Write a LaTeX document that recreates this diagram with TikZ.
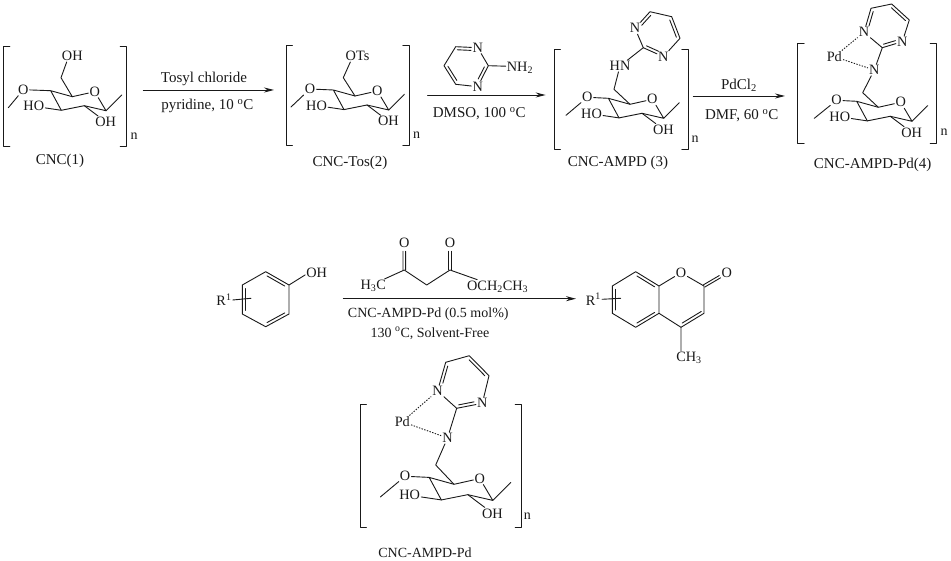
\documentclass[tikz,border=0pt]{standalone}
\usepackage{fontspec}
\setmainfont{Liberation Serif}
\usetikzlibrary{calc,arrows.meta}
\tikzset{
	atom/.style={inner sep=1pt,font=\fontsize{14.3}{16}\selectfont},
	cond/.style={inner sep=0pt,font=\fontsize{15}{17}\selectfont},
	condsm/.style={inner sep=0pt,font=\fontsize{14}{16}\selectfont},
	bond/.style={line width=0.9pt},
	coord/.style={dash pattern=on 1.4pt off 1.4pt,line cap=butt,line width=0.9pt},
	rxn/.style={line width=0.95pt,-{Stealth[length=10pt,width=5pt]}}
}
% second line of a double bond: from, fraction, to, fraction, offset
\newcommand{\innerbond}[5]{\draw[bond] ($(#1)!#2!(#3)!#5!90:(#3)$)--($(#3)!#4!(#1)!#5!-90:(#1)$);}
% sugar unit: prefix, origin, scale, x of left O
\newcommand{\sugarunit}[4]{
	\begin{scope}[shift={#2},scale=#3,name prefix=#1-]
		\coordinate (cfive) at (0,0);
		\coordinate (cfour) at (-21.6,-6);
		\coordinate (cthree) at (-11,13.6);
		\coordinate (ctwo) at (12,9);
		\coordinate (cone) at (33.7,14);
		\coordinate (mea) at (-64,11);
		\coordinate (meb) at (49.4,-1.7);
		\node[atom] (oleft) at (#4,-7) {O};
		\node[atom] (oring) at (22.4,-5) {O};
		\node[atom] (ho) at (-38.5,9.5) {HO};
		\node[atom] (oh) at (33.4,25.3) {OH};
		\draw[bond] (mea)--(oleft)--(cfour)--(cfive)--(oring)--(cone)--(ctwo)--(cthree)--(cfour);
		\draw[bond] (cone)--(meb) (cthree)--(ho) (ctwo)--(oh.142);
	\end{scope}
}
% square brackets with index
\newcommand{\polybracket}[6]{
	\coordinate (#1-a) at (#2+6.5,#4);
	\coordinate (#1-b) at (#2,#4);
	\coordinate (#1-c) at (#2,#5);
	\coordinate (#1-d) at (#2+6.5,#5);
	\coordinate (#1-e) at (#3-6.5,#4);
	\coordinate (#1-f) at (#3,#4);
	\coordinate (#1-g) at (#3,#5);
	\coordinate (#1-h) at (#3-6.5,#5);
	\draw[bond] (#1-a)--(#1-b)--(#1-c)--(#1-d) (#1-e)--(#1-f)--(#1-g)--(#1-h);
	\node[condsm] (#1-n) at #6 {n};
}
\begin{document}
\begin{tikzpicture}[x=1pt,y=-1pt,line join=round,line cap=round,black!90]
	\useasboundingbox (0,0) rectangle (951,561);
	% CNC(1)
	\sugarunit{cnc}{(72.3,96.7)}{1}{-49}
	\coordinate (cnc-ch) at (61,77.7);
	\node[atom] (cnc-top) at (72.3,56) {OH};
	\draw[bond] (cnc-cfive)--(cnc-ch)--(cnc-top.-133);
	\polybracket{bra}{3.3}{126.7}{46.7}{146.7}{(134,136.7)}
	\node[cond] (cnclab) at (60,160.7) {CNC(1)};
	% first step
	\coordinate (ra) at (143.3,90);
	\coordinate (rb) at (274,90);
	\draw[rxn] (ra)--(rb);
	\node[cond] (tosyl) at (204,79.3) {Tosyl chloride};
	\node[cond] (pyr) at (207.3,105.7) {pyridine, 10 \textsuperscript{o}C};
	% CNC-Tos(2)
	\sugarunit{tos}{(355,96)}{1}{-45}
	\coordinate (tos-ch) at (343.3,77.7);
	\node[atom] (tos-top) at (357.5,56) {OTs};
	\draw[bond] (tos-cfive)--(tos-ch)--(tos-top.-140);
	\polybracket{brb}{286}{409.3}{45.7}{145.7}{(416.7,135.7)}
	\node[cond] (toslab) at (350,162.7) {CNC-Tos(2)};
	% second step
	\coordinate (rc) at (427.7,95);
	\coordinate (rd) at (545.7,95);
	\draw[rxn] (rc)--(rd);
	\node[cond] (dmso) at (479.3,113.3) {DMSO, 100 \textsuperscript{o}C};
	\node[atom] (amn) at (477.7,47.7) {N};
	\node[atom] (amm) at (477.7,86.7) {N};
	\coordinate (amc) at (488.3,65.7);
	\coordinate (amd) at (455.7,84.3);
	\coordinate (ame) at (444,65.7);
	\coordinate (amf) at (455.7,46.7);
	\node[atom] (nhh) at (520,67.7) {NH\textsubscript{2}};
	\draw[bond] (amn)--(amc)--(amm)--(amd)--(ame)--(amf)--(amn) (amc)--(nhh.174);
	\innerbond{amf}{.08}{amn}{.3}{-3pt}
	\innerbond{amc}{.12}{amm}{.3}{-3pt}
	\innerbond{amd}{.12}{ame}{.12}{-3pt}
	% CNC-AMPD (3)
	\sugarunit{amp}{(630,104.3)}{1}{-42.7}
	\coordinate (amp-ch) at (614,89.3);
	\node[atom] (amp-hn) at (620,66) {HN};
	\node[atom] (pan) at (635,28.3) {N};
	\node[atom] (pam) at (663.3,56.7) {N};
	\coordinate (pac) at (643.3,47.7);
	\coordinate (pad) at (680,38.3);
	\coordinate (pae) at (671.7,16.7);
	\coordinate (paf) at (650,11.7);
	\draw[bond] (amp-cfive)--(amp-ch)--(amp-hn) (amp-hn)--(pac);
	\draw[bond] (pan)--(pac)--(pam)--(pad)--(pae)--(paf)--(pan);
	\innerbond{paf}{.1}{pan}{.3}{3pt}
	\innerbond{pac}{.1}{pam}{.3}{3pt}
	\innerbond{pad}{.1}{pae}{.1}{3pt}
	\polybracket{brc}{554}{688.3}{49.3}{149}{(695,139.3)}
	\node[cond] (amplab) at (618,162.5) {CNC-AMPD (3)};
	% third step
	\coordinate (re) at (693.3,96);
	\coordinate (rf) at (785,96);
	\draw[rxn] (re)--(rf);
	\node[cond] (pdcl) at (739,85) {PdCl\textsubscript{2}};
	\node[cond] (dmf) at (741.7,115.7) {DMF, 60 \textsuperscript{o}C};
	% CNC-AMPD-Pd(4)
	\sugarunit{apd}{(878.3,107.3)}{1}{-41.7}
	\coordinate (apd-ch) at (862.7,92.7);
	\node[atom] (apd-nn) at (874.3,70) {N};
	\node[atom] (pdn) at (864,32.3) {N};
	\node[atom] (pdm) at (902.3,41.7) {N};
	\node[atom] (pdm-pd) at (834.3,56.7) {Pd};
	\coordinate (pdc) at (882.3,47.7);
	\coordinate (pdd) at (909.3,20);
	\coordinate (pde) at (891.7,4);
	\coordinate (pdf) at (871,8.3);
	\draw[bond] (apd-cfive)--(apd-ch)--(apd-nn)--(pdc);
	\draw[bond] (pdn)--(pdc)--(pdm)--(pdd)--(pde)--(pdf)--(pdn);
	\innerbond{pdf}{.1}{pdn}{.3}{3pt}
	\innerbond{pdc}{.1}{pdm}{.3}{3pt}
	\innerbond{pdd}{.1}{pde}{.1}{3pt}
	\draw[coord] (pdm-pd)--(pdn) (pdm-pd)--(apd-nn);
	\polybracket{brd}{797.7}{936.7}{43.3}{143.3}{(944,132.7)}
	\node[cond] (apdlab) at (872.7,165) {CNC-AMPD-Pd(4)};
	% phenol
	\coordinate (pha) at (289,285);
	\coordinate (phb) at (265.7,271.7);
	\coordinate (phc) at (242.3,285);
	\coordinate (phd) at (242.3,314);
	\coordinate (phe) at (265.7,326.7);
	\coordinate (phf) at (289,314);
	\node[atom] (phoh) at (316.7,273.3) {OH};
	\node[atom] (phr) at (224,300) {R\textsuperscript{1}};
	\coordinate (phs) at (251,298.3);
	\draw[bond] (pha)--(phb)--(phc)--(phd)--(phe)--(phf)--(pha) (pha)--(phoh.188) (phr.east)--(phs);
	\innerbond{phb}{.12}{pha}{.12}{-3pt}
	\innerbond{phc}{.12}{phd}{.12}{3pt}
	\innerbond{phe}{.12}{phf}{.12}{3pt}
	% acetoacetate and conditions
	\node[atom] (kha) at (373.3,286) {H\textsubscript{3}C};
	\coordinate (khb) at (404.3,270);
	\coordinate (khc) at (426.7,285);
	\coordinate (khd) at (450,270);
	\node[atom] (khe) at (497.7,286.7) {OCH\textsubscript{2}CH\textsubscript{3}};
	\node[atom] (kho) at (404.3,243.3) {O};
	\node[atom] (khp) at (450,243.3) {O};
	\draw[bond] (kha.32)--(khb)--(khc)--(khd)--(khe.161);
	\innerbond{khb}{0}{kho}{.3}{1.3pt}
	\innerbond{khb}{0}{kho}{.3}{-1.3pt}
	\innerbond{khd}{0}{khp}{.3}{1.3pt}
	\innerbond{khd}{0}{khp}{.3}{-1.3pt}
	\coordinate (rg) at (343.3,298.7);
	\coordinate (rh) at (576,298.7);
	\draw[rxn] (rg)--(rh);
	\node[condsm] (catal) at (428.3,314) {CNC-AMPD-Pd (0.5 mol\%)};
	\node[condsm] (temp) at (430,333.3) {130 \textsuperscript{o}C, Solvent-Free};
	% coumarin
	\coordinate (coa) at (635.7,271.7);
	\coordinate (cob) at (659,286);
	\coordinate (coc) at (659,313.3);
	\coordinate (cod) at (635.7,327.3);
	\coordinate (coe) at (612.3,313.3);
	\coordinate (cof) at (612.3,286);
	\node[atom] (coo) at (681,272.7) {O};
	\coordinate (cog) at (704,286);
	\node[atom] (cop) at (726.7,272.7) {O};
	\coordinate (coh) at (704,313.3);
	\coordinate (coi) at (681,327.3);
	\node[atom] (coch) at (689,358) {CH\textsubscript{3}};
	\node[atom] (cor) at (593.3,299.3) {R\textsuperscript{1}};
	\coordinate (cos) at (620.7,298.3);
	\draw[bond] (coa)--(cob)--(coc)--(cod)--(coe)--(cof)--(coa) (cob)--(coo)--(cog)--(coh)--(coi)--(coc) (coi)--(coch.north-|coi) (cor.east)--(cos);
	\innerbond{cog}{0}{cop}{.3}{1.3pt}
	\innerbond{cog}{0}{cop}{.3}{-1.3pt}
	\innerbond{coa}{.12}{cob}{.12}{-3pt}
	\innerbond{coc}{.12}{cod}{.12}{-3pt}
	\innerbond{cof}{.12}{coe}{.12}{3pt}
	\innerbond{coh}{.05}{coi}{.12}{-3pt}
	% CNC-AMPD-Pd
	\sugarunit{cat}{(454,484.3)}{1.15}{-42.5}
	\coordinate (cat-ch) at (435.7,465);
	\node[atom] (cat-nn) at (447.5,438) {N};
	\node[atom] (cbn) at (437.5,391) {N};
	\node[atom] (cbm) at (482.3,403.3) {N};
	\node[atom] (cbm-pd) at (402.3,421.7) {Pd};
	\coordinate (cbc) at (456.7,408.3);
	\coordinate (cbd) at (489,375.7);
	\coordinate (cbe) at (469.3,355.7);
	\coordinate (cbf) at (445.7,362.3);
	\draw[bond] (cat-cfive)--(cat-ch)--(cat-nn)--(cbc);
	\draw[bond] (cbn)--(cbc)--(cbm)--(cbd)--(cbe)--(cbf)--(cbn);
	\innerbond{cbf}{.1}{cbn}{.3}{3pt}
	\innerbond{cbc}{.1}{cbm}{.3}{3pt}
	\innerbond{cbd}{.1}{cbe}{.1}{3pt}
	\draw[coord] (cbm-pd)--(cbn) (cbm-pd)--(cat-nn);
	\polybracket{bre}{360}{521.7}{404.3}{527.3}{(527.3,516)}
	\node[condsm] (catlab) at (425,553) {CNC-AMPD-Pd};
\end{tikzpicture}
\end{document}
